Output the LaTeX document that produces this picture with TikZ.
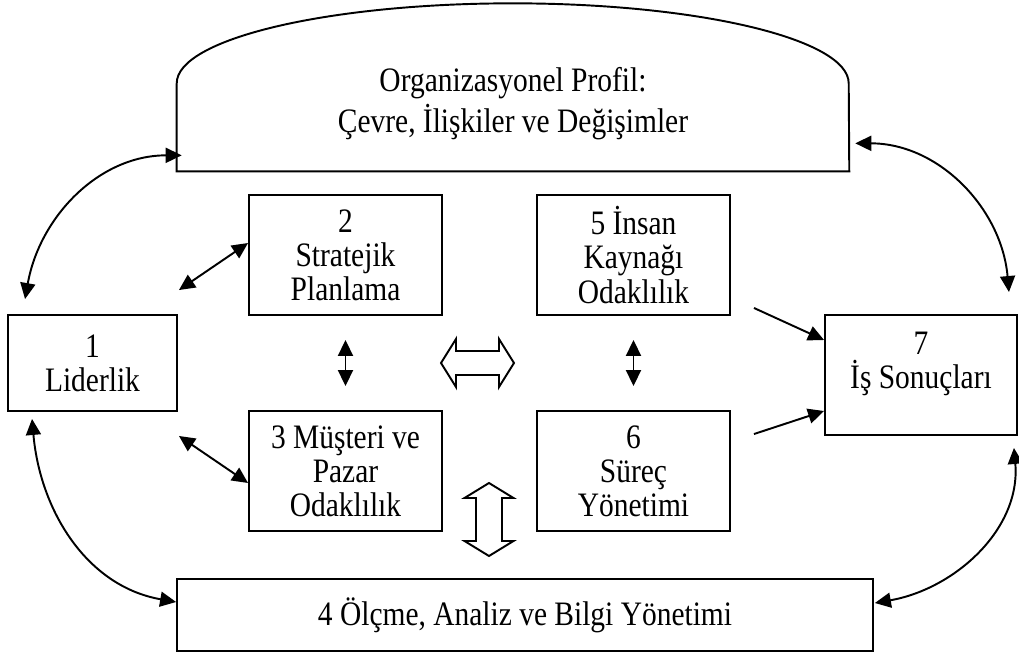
\documentclass[tikz,border=0pt]{standalone}
\usepackage{fontspec}
\setmainfont[FakeStretch=0.86]{Liberation Serif}
\usetikzlibrary{arrows.meta,calc}
\tikzset{
  >={Triangle[length=3.2mm,width=3mm]},
  every node/.style={font=\fontsize{19.5}{19.4}\selectfont},
  box/.style={draw,line width=1.1pt,align=center,inner sep=2pt},
  smallbox/.style={box,minimum width=3.86cm,minimum height=2.4cm},
  link/.style={<->,line width=1.1pt},
  flow/.style={->,line width=1.1pt},
  hollow/.style={draw,line width=1.1pt,line join=miter,fill=white}
}
\begin{document}
\begin{tikzpicture}[x=0.02cm,y=0.02cm]
  \useasboundingbox (0,0) rectangle (1019,654);
  \node[minimum width=13.44cm,minimum height=3.36cm,inner sep=0pt] (prof) at (513,567) {};
  \draw[line width=1.1pt] (prof.south west) -- ++(0,88) arc[start angle=180,end angle=0,x radius=336,y radius=80] -- (prof.south east) -- cycle;
  \node[align=center] (proftext) at (513,550) {Organizasyonel Profil:\\[2pt]Çevre, İlişkiler ve Değişimler};

  \node[box,minimum width=3.38cm,minimum height=1.92cm] (b1) at (92.5,291) {1\\Liderlik};
  \node[smallbox] (b2) at (345.5,399) {2\\Stratejik\\Planlama};
  \node[smallbox] (b3) at (345.5,183) {3 Müşteri ve\\Pazar\\Odaklılık};
  \node[smallbox] (b5) at (633.5,399) {5 İnsan\\Kaynağı\\Odaklılık};
  \node[smallbox] (b6) at (633.5,183) {6\\Süreç\\Yönetimi};
  \node[box,minimum width=3.84cm,minimum height=2.4cm,text depth=0.6cm] (b7) at (921,279) {7\\İş Sonuçları};
  \node[box,minimum width=13.92cm,minimum height=1.44cm] (b4) at (525,39) {4 Ölçme, Analiz ve Bilgi Yönetimi};

  \coordinate (hx) at (477.5,291);
  \coordinate (vx) at (489,134.5);
  \draw[hollow] ($(hx)+(-36.5,0)$) -- ++(15,24) -- ++(0,-12) -- ++(43,0) -- ++(0,12) -- ++(15,-24) -- ++(-15,-24) -- ++(0,12) -- ++(-43,0) -- ++(0,-12) -- cycle;
  \draw[hollow] ($(vx)+(0,36.5)$) -- ++(24.5,-15) -- ++(-11.5,0) -- ++(0,-43) -- ++(11.5,0) -- ++(-24.5,-15) -- ++(-24.5,15) -- ++(11.5,0) -- ++(0,43) -- ++(-11.5,0) -- cycle;

  \draw[link] ($(prof.south west)+(5,16)$) to[out=180,in=80] ($(b1.north west)+(18,15)$);
  \draw[link] ($(b1.north east)+(1,24)$) -- ($(b2.west)+(0,12)$);
  \draw[link] ($(b1.south east)+(1,-24)$) -- ($(b3.west)+(0,-12)$);
  \draw[link] ($(b1.south west)+(25,-7)$) to[out=-85,in=170] ($(b4.west)+(0,13)$);
  \draw[link] ($(b2.south)+(0,-24)$) -- ($(b3.north)+(0,24)$);
  \draw[link] ($(b5.south)+(0,-24)$) -- ($(b6.north)+(0,24)$);
  \draw[flow] ($(b5.south east)+(23,8)$) -- ($(b7.west)+(0,35)$);
  \draw[flow] ($(b6.north east)+(23,-24)$) -- ($(b7.west)+(0,-36)$);
  \draw[link] ($(prof.south east)+(6,28)$) to[out=0,in=95] ($(b7.north east)+(-9,22)$);
  \draw[link] ($(b7.south east)+(-4,-12)$) to[out=-85,in=10] ($(b4.east)+(1,12)$);
\end{tikzpicture}
\end{document}
